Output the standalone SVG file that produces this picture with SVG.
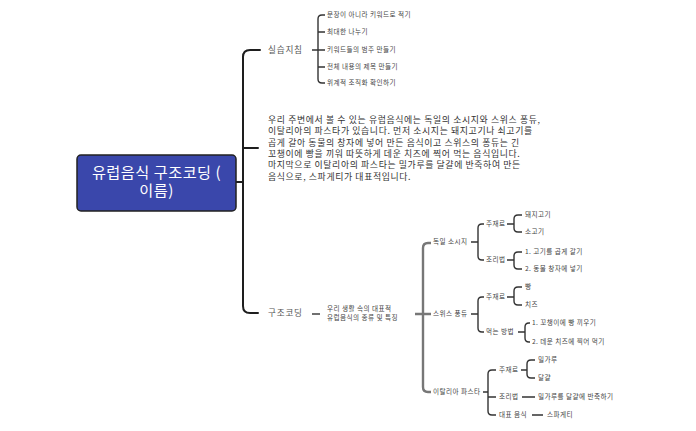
<svg xmlns="http://www.w3.org/2000/svg" width="696" height="431" viewBox="0 0 696 431">
<style>
text{font-family:"Noto Sans CJK KR","Noto Sans",sans-serif;}
.sm{font-size:6.6px;fill:#444;letter-spacing:0.45px;}
.lb{font-size:8.6px;fill:#555;letter-spacing:0.8px;}
.pg{font-size:8.9px;fill:#333;letter-spacing:0.62px;}
.rt{font-size:15.2px;fill:#ffffff;letter-spacing:0.5px;}
.main{fill:none;stroke:#1e1e1e;stroke-width:2;stroke-linecap:round;}
.sub{fill:none;stroke:#333;stroke-width:1.4;}
.gray{fill:none;stroke:#777;stroke-width:2.4;}
</style>
<rect width="696" height="431" fill="#ffffff"/>
<g id="connectors">
<path class="main" d="M236 182 H243 M260 50 H250 Q243 50 243 57 V306 Q243 313 250 313 H258 M243 148 H258"/>
<path class="sub" d="M312 50 H318 M325 15 H322 Q318 15 318 19 V79 Q318 83 322 83 H325 M318 32 H325 M318 50 H325 M318 67 H325"/>
<path class="sub" d="M312 314 H320"/>
<path class="gray" d="M431 243 H428 Q423 243 423 248 V387 Q423 392 428 392 H431 M415 314 H431"/>
<path class="sub" d="M471 242 H478 M484 224 H482 Q478 224 478 228 V256 Q478 260 482 260 H484"/>
<path class="sub" d="M507 224 H514 M522 215 H518 Q514 215 514 219 V228 Q514 232 518 232 H522"/>
<path class="sub" d="M507 260 H514 M522 252 H518 Q514 252 514 256 V265 Q514 269 518 269 H522"/>
<path class="sub" d="M471 314 H478 M484 297 H482 Q478 297 478 301 V328 Q478 332 482 332 H484"/>
<path class="sub" d="M507 297 H514 M522 287 H518 Q514 287 514 291 V301 Q514 305 518 305 H522"/>
<path class="sub" d="M518 332 H525 M530 323 H529 Q525 323 525 327 V338 Q525 342 529 342 H530"/>
<path class="sub" d="M483 392 H488 M496 370 H492 Q488 370 488 374 V411 Q488 415 492 415 H496 M488 397 H496"/>
<path class="sub" d="M521 370 H527 M535 360 H531 Q527 360 527 364 V374 Q527 378 531 378 H535"/>
<path class="sub" d="M522 397 H535 M532 415 H543"/>
</g>
<g id="root">
<rect x="77" y="155" width="159" height="56" rx="4" fill="#3a47ab" stroke="#222" stroke-width="1.5"/>
<text class="rt" x="156.5" y="178" text-anchor="middle">유럽음식 구조코딩 (</text>
<text class="rt" x="156.5" y="196" text-anchor="middle">이름)</text>
</g>
<g id="guide">
<text class="lb" x="268" y="53">실습지침</text>
</g>
<g id="guide-items">
<text class="sm" x="327" y="17.3">문장이 아니라 키워드로 적기</text>
<text class="sm" x="327" y="34.3">최대한 나누기</text>
<text class="sm" x="327" y="52.3">키워드들의 범주 만들기</text>
<text class="sm" x="327" y="69.3">전체 내용의 제목 만들기</text>
<text class="sm" x="327" y="85.3">위계적 조직화 확인하기</text>
</g>
<g id="paragraph">
<text class="pg" x="268" y="123">우리 주변에서 볼 수 있는 유럽음식에는 독일의 소시지와 스위스 퐁듀,</text>
<text class="pg" x="268" y="134.3">이탈리아의 파스타가 있습니다. 먼저 소시지는 돼지고기나 쇠고기를</text>
<text class="pg" x="268" y="145.6">곱게 갈아 동물의 창자에 넣어 만든 음식이고 스위스의 퐁듀는 긴</text>
<text class="pg" x="268" y="156.9">꼬챙이에 빵을 끼워 따뜻하게 데운 치즈에 찍어 먹는 음식입니다.</text>
<text class="pg" x="268" y="168.2">마지막으로 이탈리아의 파스타는 밀가루를 달걀에 반죽하여 만든</text>
<text class="pg" x="268" y="179.5">음식으로, 스파게티가 대표적입니다.</text>
</g>
<g id="structure">
<text class="lb" x="268" y="316">구조코딩</text>
<text class="sm" x="327" y="310.5">우리 생활 속의 대표적</text>
<text class="sm" x="327" y="319.5">유럽음식의 종류 및 특징</text>
</g>
<g id="germany">
<text class="sm" x="433" y="244.3">독일 소시지</text>
<text class="sm" x="486" y="226.3">주재료</text>
<text class="sm" x="525" y="217.3">돼지고기</text>
<text class="sm" x="525" y="234.3">소고기</text>
<text class="sm" x="486" y="262.3">조리법</text>
<text class="sm" x="525" y="254.3">1. 고기를 곱게 갈기</text>
<text class="sm" x="525" y="271.3">2. 동물 창자에 넣기</text>
</g>
<g id="swiss">
<text class="sm" x="433" y="316.3">스위스 퐁듀</text>
<text class="sm" x="486" y="299.3">주재료</text>
<text class="sm" x="525" y="289.3">빵</text>
<text class="sm" x="525" y="307.3">치즈</text>
<text class="sm" x="486" y="334.3">먹는 방법</text>
<text class="sm" x="532" y="325.3">1. 꼬챙이에 빵 끼우기</text>
<text class="sm" x="532" y="344.3">2. 데운 치즈에 찍어 먹기</text>
</g>
<g id="italy">
<text class="sm" x="433" y="394.3">이탈리아 파스타</text>
<text class="sm" x="499" y="372.3">주재료</text>
<text class="sm" x="538" y="362.3">밀가루</text>
<text class="sm" x="538" y="380.3">달걀</text>
<text class="sm" x="499" y="399.3">조리법</text>
<text class="sm" x="538" y="399.3">밀가루를 달걀에 반죽하기</text>
<text class="sm" x="499" y="417.3">대표 음식</text>
<text class="sm" x="547" y="417.3">스파게티</text>
</g>
</svg>
